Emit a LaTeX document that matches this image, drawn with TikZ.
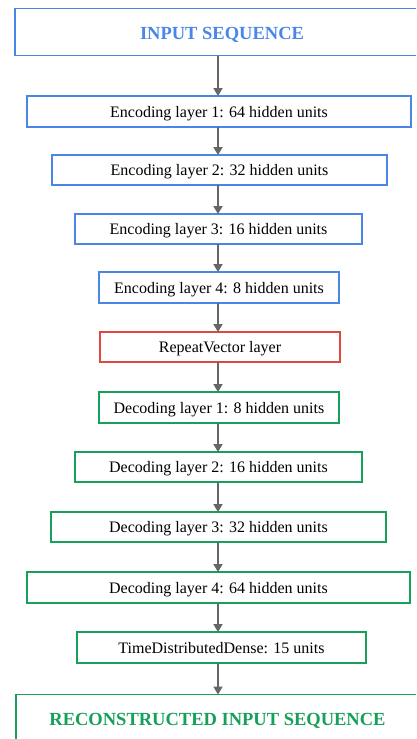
\documentclass[tikz,border=0pt]{standalone}
\usepackage{fontspec}
\setmainfont{Liberation Serif}
\usetikzlibrary{arrows.meta}

\begin{document}
\begin{tikzpicture}[x=1pt,y=-1pt,
  layerbox/.style={draw=#1,line width=1.6pt,inner sep=0pt,outer sep=0pt,
    font=\fontsize{16}{18}\selectfont,text=black,text depth=0pt},
  endbox/.style={draw=#1,line width=1.6pt,inner sep=0pt,outer sep=0pt,
    font=\fontsize{18.5}{21}\selectfont\bfseries,text=#1,text height=15pt,text depth=0pt},
  flow/.style={draw=arrowColor,line width=1.8pt,-{Triangle[width=9pt,length=8pt]}}]
\definecolor{encColor}{RGB}{74,134,232}
\definecolor{repColor}{RGB}{224,72,62}
\definecolor{decColor}{RGB}{22,160,90}
\definecolor{arrowColor}{RGB}{102,102,102}
\path[use as bounding box,fill=white] (0,0) rectangle (416,739);
\begin{scope}
\path[clip] (0,0) rectangle (416,739);

\node[endbox=encColor,minimum width=414pt,minimum height=47pt] (input) at (222,32) {INPUT SEQUENCE};

\node[layerbox=encColor,minimum width=384pt,minimum height=31pt] (enc1) at (219,111.5) {Encoding layer 1: 64 hidden units};
\node[layerbox=encColor,minimum width=335pt,minimum height=30pt] (enc2) at (219.5,170) {Encoding layer 2: 32 hidden units};
\node[layerbox=encColor,minimum width=287pt,minimum height=30pt] (enc3) at (218.5,229) {Encoding layer 3: 16 hidden units};
\node[layerbox=encColor,minimum width=240pt,minimum height=31pt] (enc4) at (219,287.5) {Encoding layer 4: 8 hidden units};

\node[layerbox=repColor,minimum width=240pt,minimum height=30pt] (repeat) at (220,347) {RepeatVector layer};

\node[layerbox=decColor,minimum width=240pt,minimum height=31pt] (dec1) at (219,407.5) {Decoding layer 1: 8 hidden units};
\node[layerbox=decColor,minimum width=287pt,minimum height=30pt] (dec2) at (218.5,467) {Decoding layer 2: 16 hidden units};
\node[layerbox=decColor,minimum width=335pt,minimum height=30pt] (dec3) at (218.5,527) {Decoding layer 3: 32 hidden units};
\node[layerbox=decColor,minimum width=383pt,minimum height=31pt] (dec4) at (218.5,587.5) {Decoding layer 4: 64 hidden units};
\node[layerbox=decColor,minimum width=289pt,minimum height=31pt] (tdd) at (221.5,647.5) {TimeDistributedDense: 15 units};

\node[endbox=decColor,minimum width=403pt,minimum height=47pt] (recon) at (217.5,718) {RECONSTRUCTED INPUT SEQUENCE};

\draw[flow] (input.south -| 218,0) -- (enc1.north -| 218,0);
\draw[flow] (enc1.south -| 218,0) -- (enc2.north -| 218,0);
\draw[flow] (enc2.south -| 218,0) -- (enc3.north -| 218,0);
\draw[flow] (enc3.south -| 218,0) -- (enc4.north -| 218,0);
\draw[flow] (enc4.south -| 218,0) -- (repeat.north -| 218,0);
\draw[flow] (repeat.south -| 218,0) -- (dec1.north -| 218,0);
\draw[flow] (dec1.south -| 218,0) -- (dec2.north -| 218,0);
\draw[flow] (dec2.south -| 218,0) -- (dec3.north -| 218,0);
\draw[flow] (dec3.south -| 218,0) -- (dec4.north -| 218,0);
\draw[flow] (dec4.south -| 218,0) -- (tdd.north -| 218,0);
\draw[flow] (tdd.south -| 218,0) -- (recon.north -| 218,0);
\end{scope}
\end{tikzpicture}
\end{document}
